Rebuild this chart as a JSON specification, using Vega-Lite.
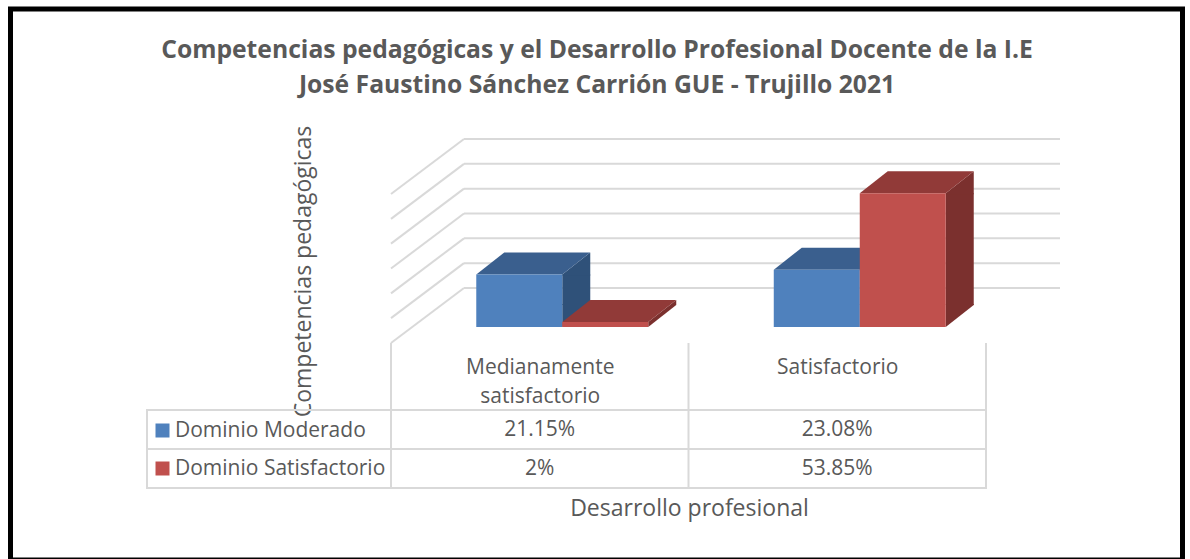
{
"$schema":"https://vega.github.io/schema/vega-lite/v6.json",
"width":1190,"height":559,"padding":0,"autosize":"none","background":"white",
"view":{"stroke":null},
"title":{"text":["Competencias pedagógicas y el Desarrollo Profesional Docente de la I.E","José Faustino Sánchez Carrión GUE - Trujillo 2021"],"anchor":"middle","orient":"top","offset":0,"dx":2,"dy":118,"baseline":"alphabetic","font":"Open Sans","fontSize":24.7,"fontWeight":"bold","color":"#595959","lineHeight":35},
"datasets":{
"bars":[
{"category":"Medianamente satisfactorio","series":"Dominio Moderado","value":0.2115},
{"category":"Medianamente satisfactorio","series":"Dominio Satisfactorio","value":0.02},
{"category":"Satisfactorio","series":"Dominio Moderado","value":0.2308},
{"category":"Satisfactorio","series":"Dominio Satisfactorio","value":0.5385}],
"ticks":[{"tick":0},{"tick":0.1},{"tick":0.2},{"tick":0.3},{"tick":0.4},{"tick":0.5},{"tick":0.6}],
"edges":[{"edge":0},{"edge":1},{"edge":2}]
},
"resolve":{"scale":{"x":"independent","y":"independent","xOffset":"independent"}},
"layer":[
{"data":{"values":[{"frame":"border"}]},"mark":{"type":"rect","fill":null,"stroke":"#000000","strokeWidth":5,"clip":false},
"encoding":{"x":{"datum":0,"type":"quantitative","scale":{"domain":[0,1],"range":[10.5,1182.5]},"axis":null},"x2":{"datum":1},"y":{"datum":0,"type":"quantitative","scale":{"domain":[0,1],"range":[9,560]},"axis":null},"y2":{"datum":1}}},
{"data":{"name":"ticks"},"mark":{"type":"rule","color":"#d9d9d9","strokeWidth":2,"yOffset":-39},
"encoding":{"x":{"datum":0,"type":"quantitative","scale":{"domain":[0,1],"range":[464,1060]},"axis":null},"x2":{"datum":1},"y":{"field":"tick","type":"quantitative","scale":{"domain":[0,0.6],"range":[327,178]},"axis":null}}},
{"data":{"name":"ticks"},"mark":{"type":"rule","color":"#d9d9d9","strokeWidth":2,"yOffset":16,"y2Offset":-39},
"encoding":{"x":{"datum":0,"type":"quantitative","scale":{"domain":[0,1],"range":[391,464]},"axis":null},"x2":{"datum":1},"y":{"field":"tick","type":"quantitative","scale":{"domain":[0,0.6],"range":[327,178]},"axis":{"labels":false,"ticks":false,"domain":false,"grid":false,"title":"Competencias pedagógicas","titleFont":"Open Sans","titleFontSize":23,"titleFontWeight":"normal","titleColor":"#595959","titleX":310,"titleY":271,"titleAngle":270,"titleAlign":"center","titleBaseline":"alphabetic"}},"y2":{"field":"tick"}}},
{"data":{"name":"bars"},"transform":[{"filter":"datum.value > 0.09"}],"mark":{"type":"bar","width":28,"y2Offset":-22,"strokeWidth":0},
"encoding":{"x":{"field":"category","type":"nominal","scale":{"type":"band","domain":["Medianamente satisfactorio","Satisfactorio"],"range":[470.5,1065.5],"paddingInner":0,"paddingOuter":0},"axis":null},"xOffset":{"field":"series","type":"nominal","scale":{"type":"band","domain":["Dominio Moderado","Dominio Satisfactorio"],"paddingInner":0,"paddingOuter":0.73}},"y":{"field":"value","type":"quantitative","scale":{"domain":[0,0.6],"range":[327,178]},"axis":null},"y2":{"datum":0},"fill":{"condition":{"test":"datum.series == 'Dominio Moderado'","value":"#2f5179"},"value":"#7b302e"}}},
{"data":{"name":"bars"},"transform":[{"filter":"datum.value > 0.09"}],"mark":{"type":"point","filled":true,"opacity":1,"size":4,"strokeWidth":0,"shape":"M43,0L71,-22L71,1L43,1Z"},
"encoding":{"x":{"field":"category","type":"nominal","scale":{"type":"band","domain":["Medianamente satisfactorio","Satisfactorio"],"range":[413.5,1008.5],"paddingInner":0,"paddingOuter":0},"axis":null},"xOffset":{"field":"series","type":"nominal","scale":{"type":"band","domain":["Dominio Moderado","Dominio Satisfactorio"],"paddingInner":0,"paddingOuter":0.73}},"y":{"field":"value","type":"quantitative","scale":{"domain":[0,0.6],"range":[327,178]},"axis":null},"fill":{"condition":{"test":"datum.series == 'Dominio Moderado'","value":"#2f5179"},"value":"#7b302e"}}},
{"data":{"name":"bars"},"transform":[{"filter":"datum.value > 0.09"}],"mark":{"type":"point","filled":true,"opacity":1,"size":4,"strokeWidth":0,"shape":"M43,-23L71,-23L71,-22L43,0Z"},
"encoding":{"x":{"field":"category","type":"nominal","scale":{"type":"band","domain":["Medianamente satisfactorio","Satisfactorio"],"range":[413.5,1008.5],"paddingInner":0,"paddingOuter":0},"axis":null},"xOffset":{"field":"series","type":"nominal","scale":{"type":"band","domain":["Dominio Moderado","Dominio Satisfactorio"],"paddingInner":0,"paddingOuter":0.73}},"y":{"datum":0,"type":"quantitative","scale":{"domain":[0,0.6],"range":[327,178]},"axis":null},"fill":{"condition":{"test":"datum.series == 'Dominio Moderado'","value":"#2f5179"},"value":"#7b302e"}}},
{"data":{"name":"bars"},"transform":[{"filter":"datum.value <= 0.09"}],"mark":{"type":"point","filled":true,"opacity":1,"size":4,"strokeWidth":0,"shape":"M43,0L71,-22L71,-17L43,5Z"},
"encoding":{"x":{"field":"category","type":"nominal","scale":{"type":"band","domain":["Medianamente satisfactorio","Satisfactorio"],"range":[413.5,1008.5],"paddingInner":0,"paddingOuter":0},"axis":null},"xOffset":{"field":"series","type":"nominal","scale":{"type":"band","domain":["Dominio Moderado","Dominio Satisfactorio"],"paddingInner":0,"paddingOuter":0.73}},"y":{"field":"value","type":"quantitative","scale":{"domain":[0,0.6],"range":[327,178]},"axis":null},"fill":{"condition":{"test":"datum.series == 'Dominio Moderado'","value":"#2f5179"},"value":"#7b302e"}}},
{"data":{"name":"bars"},"mark":{"type":"point","filled":true,"opacity":1,"size":4,"strokeWidth":0,"shape":"M-43,0L-15,-22L71,-22L43,0Z"},
"encoding":{"x":{"field":"category","type":"nominal","scale":{"type":"band","domain":["Medianamente satisfactorio","Satisfactorio"],"range":[413.5,1008.5],"paddingInner":0,"paddingOuter":0},"axis":null},"xOffset":{"field":"series","type":"nominal","scale":{"type":"band","domain":["Dominio Moderado","Dominio Satisfactorio"],"paddingInner":0,"paddingOuter":0.73}},"y":{"field":"value","type":"quantitative","scale":{"domain":[0,0.6],"range":[327,178]},"axis":null},"fill":{"condition":{"test":"datum.series == 'Dominio Moderado'","value":"#3a5f8e"},"value":"#913a38"}}},
{"data":{"name":"bars"},"mark":{"type":"bar","strokeWidth":0},
"encoding":{"x":{"field":"category","type":"nominal","scale":{"type":"band","domain":["Medianamente satisfactorio","Satisfactorio"],"range":[413.5,1008.5],"paddingInner":0,"paddingOuter":0},"axis":null},"xOffset":{"field":"series","type":"nominal","scale":{"type":"band","domain":["Dominio Moderado","Dominio Satisfactorio"],"paddingInner":0,"paddingOuter":0.73}},"y":{"field":"value","type":"quantitative","scale":{"domain":[0,0.6],"range":[327,178]},"axis":null},"color":{"field":"series","type":"nominal","scale":{"domain":["Dominio Moderado","Dominio Satisfactorio"],"range":["#4f81bd","#c0504d"]},"legend":{"orient":"none","legendX":152,"legendY":420,"title":null,"symbolType":"square","symbolSize":196,"symbolStrokeWidth":0,"labelFont":"Open Sans","labelFontSize":21,"labelColor":"#595959","labelOffset":2,"labelLimit":240,"rowPadding":16,"padding":0}}}},
{"data":{"name":"edges"},"mark":{"type":"rule","color":"#d9d9d9","strokeWidth":2},
"encoding":{"x":{"field":"edge","type":"quantitative","scale":{"domain":[0,2],"range":[391,986]},"axis":null},"y":{"datum":0,"type":"quantitative","scale":{"domain":[0,1],"range":[343,488]},"axis":null},"y2":{"datum":1}}},
{"data":{"name":"bars"},"mark":{"type":"rect","fill":null,"stroke":"#d9d9d9","strokeWidth":2},
"encoding":{"x":{"datum":0,"type":"quantitative","scale":{"domain":[0,1],"range":[147,986]},"axis":null},"x2":{"datum":1},"y":{"field":"series","type":"nominal","scale":{"domain":["Dominio Moderado","Dominio Satisfactorio"],"range":[410,488],"paddingInner":0,"paddingOuter":0},"axis":null}}},
{"data":{"name":"bars"},"mark":{"type":"text","font":"Open Sans","fontSize":21,"color":"#595959"},
"encoding":{"x":{"field":"category","type":"nominal","scale":{"range":[391,986],"paddingInner":0,"paddingOuter":0},"axis":{"orient":"bottom","offset":-216,"domain":false,"ticks":false,"grid":false,"labelAngle":0,"labelAlign":"center","labelBaseline":"top","labelPadding":13,"labelFont":"Open Sans","labelFontSize":21,"labelColor":"#595959","labelLineHeight":29,"labelLimit":300,"labelExpr":"split(datum.label,' ')","title":"Desarrollo profesional","titleFont":"Open Sans","titleFontSize":23,"titleFontWeight":"normal","titleColor":"#595959","titleX":689,"titleY":154,"titleAlign":"center"}},"y":{"field":"series","type":"nominal","scale":{"domain":["Dominio Moderado","Dominio Satisfactorio"],"range":[410,488],"paddingInner":0,"paddingOuter":0},"axis":null},"text":{"field":"value","type":"quantitative","format":".2~%"}}}
]
}
